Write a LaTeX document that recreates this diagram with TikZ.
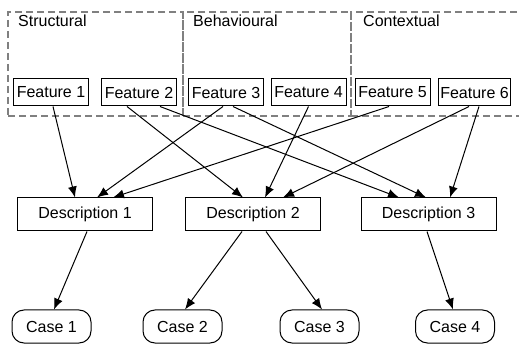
\documentclass[tikz,border=0pt]{standalone}
\usepackage{fontspec}
\setmainfont{Liberation Sans}
\usetikzlibrary{arrows.meta,positioning}

\begin{document}
\begin{tikzpicture}[x=1pt, y=-1pt,
    every node/.style={font=\fontsize{16}{19}\selectfont},
    group box/.style={rectangle, draw=black!50, dash pattern=on 7pt off 4pt, line width=1.8pt, inner sep=0pt},
    group label/.style={anchor=base west, inner sep=0pt},
    feature/.style={rectangle, draw, line width=1pt, minimum width=75pt, minimum height=27pt, inner sep=0pt},
    description/.style={rectangle, draw, line width=1pt, minimum width=135pt, minimum height=33pt, inner sep=0pt},
    case/.style={rectangle, rounded corners=12pt, draw, line width=1pt, minimum width=79pt, minimum height=33pt, inner sep=0pt},
    link/.style={-{Latex[length=11pt,width=9pt]}, line width=1pt, black}
]
    \useasboundingbox (0,0) rectangle (519,344);

    % feature groups
    \node[group box, minimum width=175pt, minimum height=104pt] (grpstruct) at (95.5,64) {};
    \node[group box, minimum width=168pt, minimum height=104pt] (grpbehav) at (267,64) {};
    \node[group box, minimum width=174pt, minimum height=104pt] (grpcontext) at (438,64) {};
    \node[group label] (lblstruct) at (18,27) {Structural};
    \node[group label] (lblbehav) at (193,27) {Behavioural};
    \node[group label] (lblcontext) at (363,27) {Contextual};

    % features
    \node[feature, fill=white] (f1) at (51,92.5) {Feature 1};
    \node[feature, fill=white] (f2) at (139,92.5) {Feature 2};
    \node[feature, fill=white] (f3) at (226,92.5) {Feature 3};
    \node[feature, fill=white] (f4) at (308.5,92.5) {Feature 4};
    \node[feature, fill=white] (f5) at (392.5,92.5) {Feature 5};
    \node[feature, fill=white, minimum width=72pt] (f6) at (474.5,92.5) {Feature 6};

    % descriptions
    \node[description] (d1) at (85,214.5) {Description 1};
    \node[description] (d2) at (253,214.5) {Description 2};
    \node[description] (d3) at (428.5,214.5) {Description 3};

    % cases
    \node[case] (c1) at (51.5,326.5) {Case 1};
    \node[case] (c2) at (182.5,326.5) {Case 2};
    \node[case] (c3) at (319.5,326.5) {Case 3};
    \node[case] (c4) at (455,326.5) {Case 4};

    % features to descriptions
    \draw[link] ([xshift=2pt]f1.south) -- ([xshift=-10pt]d1.north);
    \draw[link] ([xshift=-12pt]f2.south) -- ([xshift=-10pt]d2.north);
    \draw[link] ([xshift=21pt]f2.south) -- ([xshift=-29.5pt]d3.north);
    \draw[link] ([xshift=-3pt]f3.south) -- ([xshift=12pt]d1.north);
    \draw[link] ([xshift=7pt]f3.south) -- ([xshift=-2.5pt]d3.north);
    \draw[link] (f4.south) -- ([xshift=12pt]d2.north);
    \draw[link] ([xshift=-3.5pt]f5.south) -- ([xshift=28pt]d1.north);
    \draw[link] ([xshift=-5.5pt]f6.south) -- ([xshift=30pt]d2.north);
    \draw[link] ([xshift=4.5pt]f6.south) -- ([xshift=21.5pt]d3.north);

    % descriptions to cases
    \draw[link] ([xshift=2pt]d1.south) -- ([xshift=2.5pt]c1.north);
    \draw[link] ([xshift=-11pt]d2.south) -- ([xshift=2.5pt]c2.north);
    \draw[link] ([xshift=13pt]d2.south) -- ([xshift=2.5pt]c3.north);
    \draw[link] ([xshift=-1.5pt]d3.south) -- ([xshift=-2pt]c4.north);
\end{tikzpicture}
\end{document}
